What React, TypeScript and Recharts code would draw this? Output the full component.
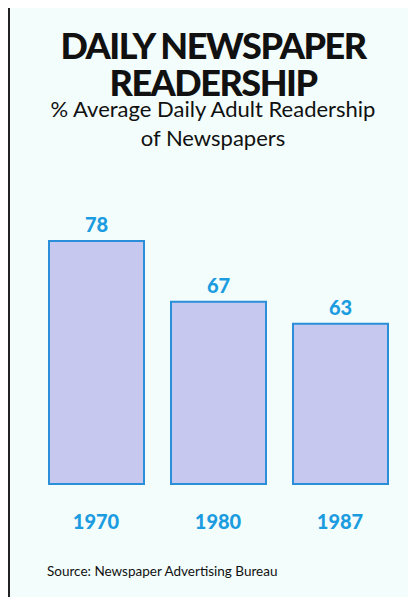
import { BarChart, Bar, XAxis, YAxis, LabelList } from 'recharts'

const years = ['1970', '1980', '1987']
const readership = [78, 67, 63]

const data = years.map((year, i) => ({ year, pct: readership[i] }))

const BLUE = '#1c9ce0'

const YearTick = ({ x, y, payload }: any) => (
  <text x={x} y={y + 45} textAnchor="middle" fill={BLUE} fontSize={20} fontWeight={900} fontFamily="Lato">
    {payload.value}
  </text>
)

export default function App() {
  return (
    <div style={{ position: 'relative', margin: -8, width: 416, height: 605, background: '#fff', overflow: 'hidden' }}>
      {/* page frame */}
      <div
        style={{
          position: 'absolute',
          left: 8,
          top: 5,
          width: 402,
          height: 610,
          background: '#f3fdfb',
          borderLeft: '2px solid #222',
          borderTop: '2px solid #222',
        }}
      />
      <div
        style={{
          position: 'absolute',
          left: 10,
          top: 27,
          width: 406,
          textAlign: 'center',
          fontFamily: 'Lato',
          fontWeight: 900,
          fontSize: 36,
          lineHeight: '37px',
          letterSpacing: -1.5,
          color: '#111',
        }}
      >
        DAILY NEWSPAPER
        <br />
        READERSHIP
      </div>
      <div
        style={{
          position: 'absolute',
          left: 10,
          top: 94,
          width: 406,
          textAlign: 'center',
          fontFamily: 'Lato',
          fontSize: 22,
          lineHeight: '29px',
          color: '#111',
        }}
      >
        % Average Daily Adult Readership
        <br />
        of Newspapers
      </div>
      <div style={{ position: 'absolute', left: 0, top: 0 }}>
        <BarChart width={416} height={605} data={data} margin={{ top: 241, right: 15, bottom: 81, left: 35 }} barSize={95}>
          <YAxis hide domain={[34, 78]} />
          <XAxis dataKey="year" height={40} axisLine={false} tickLine={false} tickSize={0} tickMargin={0} tick={<YearTick />} />
          <Bar dataKey="pct" fill="#c6c8ef" stroke="#2a8fd8" strokeWidth={2} isAnimationActive={false}>
            <LabelList dataKey="pct" position="top" offset={9} fill={BLUE} fontSize={20} fontWeight={900} fontFamily="Lato" />
          </Bar>
        </BarChart>
      </div>
      <div
        style={{
          position: 'absolute',
          left: 47,
          top: 563,
          fontFamily: 'Lato',
          fontSize: 13.5,
          color: '#111',
          whiteSpace: 'nowrap',
        }}
      >
        Source: Newspaper Advertising Bureau
      </div>
    </div>
  )
}
